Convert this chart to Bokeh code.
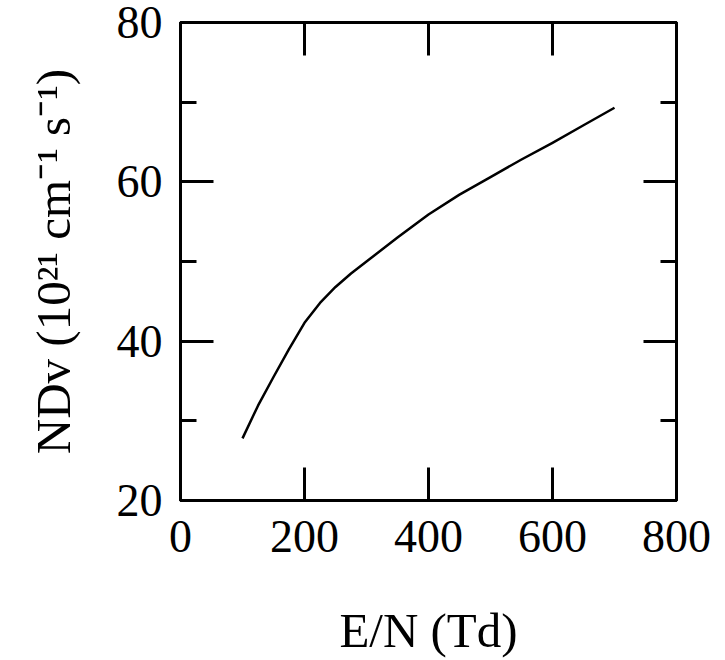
from bokeh.plotting import figure
from bokeh.models import Range1d, LinearAxis, FixedTicker
from bokeh.embed import file_html
from bokeh.resources import INLINE

# Data
en_td = [100, 125, 150, 175, 200, 225, 250, 275, 300, 350, 400, 450, 500, 550, 600, 650, 700]
ndv = [27.8, 31.9, 35.5, 39.0, 42.3, 44.8, 46.8, 48.5, 50.0, 53.0, 55.9, 58.4, 60.6, 62.8, 64.9, 67.1, 69.3]

x_ticks = [0, 200, 400, 600, 800]
y_ticks = [20, 40, 60, 80]
y_minor = [30, 50, 70]

FONT = "Liberation Serif"

p = figure(width=725, height=660, output_backend="svg", toolbar_location=None,
           x_range=Range1d(0, 800), y_range=Range1d(20, 80),
           min_border_left=180, min_border_right=49, min_border_top=22, min_border_bottom=160,
           x_axis_label="E/N (Td)", y_axis_label="NDv (10²¹ cm⁻¹ s⁻¹)")

p.grid.visible = False
p.background_fill_color = "white"
p.border_fill_color = "white"
p.outline_line_color = "black"
p.outline_line_width = 3

p.line(en_td, ndv, line_color="black", line_width=2.5, line_join="round")

xt = FixedTicker(ticks=x_ticks, minor_ticks=[])
yt = FixedTicker(ticks=y_ticks, minor_ticks=y_minor)

def style(ax, ticker, show_labels):
    ax.ticker = ticker
    ax.axis_line_width = 3
    ax.axis_line_color = "black"
    ax.major_tick_line_width = 3
    ax.minor_tick_line_width = 3
    ax.major_tick_in = 33
    ax.major_tick_out = 0
    ax.minor_tick_in = 16
    ax.minor_tick_out = 0
    ax.major_label_text_font = FONT
    ax.major_label_text_color = "black"
    ax.axis_label_text_font = FONT
    ax.axis_label_text_font_style = "normal"
    ax.axis_label_text_color = "black"
    ax.axis_label_text_font_size = "49px"
    if show_labels:
        ax.major_label_text_font_size = "46px"
    else:
        ax.major_label_text_font_size = "1px"
        ax.major_label_text_alpha = 0
        ax.major_label_text_color = None
        ax.major_label_standoff = 0

xb = p.xaxis[0]
yl = p.yaxis[0]
style(xb, xt, True)
style(yl, yt, True)
xb.major_label_standoff = 20
xb.axis_label_standoff = 48
yl.major_label_standoff = 18
yl.axis_label_standoff = 33

xtop = LinearAxis()
style(xtop, xt, False)
p.add_layout(xtop, "above")
yr = LinearAxis()
style(yr, yt, False)
p.add_layout(yr, "right")

open("out.html", "w").write(file_html(p, INLINE))
